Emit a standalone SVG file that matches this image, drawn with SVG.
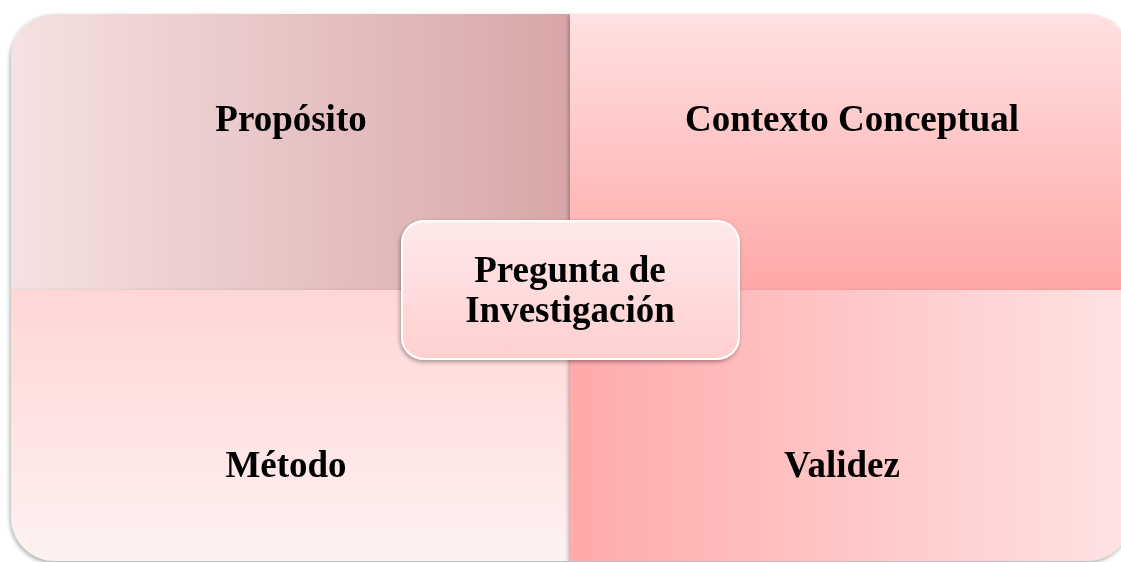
<svg xmlns="http://www.w3.org/2000/svg" width="1121" height="562" viewBox="0 0 1121 562">
  <style>
    .lbl { font-family: "Liberation Serif", "Times New Roman", serif; font-weight: bold; font-size: 37px; fill: #000; text-anchor: middle; }
  </style>
  <defs>
    <linearGradient id="gTL" x1="0" y1="0" x2="1" y2="0">
      <stop offset="0" stop-color="#f5e2e2"/>
      <stop offset="1" stop-color="#d9a6a7"/>
    </linearGradient>
    <linearGradient id="gTR" x1="0" y1="0" x2="0" y2="1">
      <stop offset="0" stop-color="#ffe1e1"/>
      <stop offset="1" stop-color="#ffa8a8"/>
    </linearGradient>
    <linearGradient id="gBL" x1="0" y1="0" x2="0" y2="1">
      <stop offset="0" stop-color="#ffd6d5"/>
      <stop offset="1" stop-color="#fdf2f1"/>
    </linearGradient>
    <linearGradient id="gBR" x1="0" y1="0" x2="1" y2="0">
      <stop offset="0" stop-color="#ffaaab"/>
      <stop offset="1" stop-color="#ffe3e3"/>
    </linearGradient>
    <linearGradient id="gC" x1="0" y1="0" x2="0" y2="1">
      <stop offset="0" stop-color="#ffe9e9"/>
      <stop offset="1" stop-color="#ffcfd0"/>
    </linearGradient>
    <filter id="sh" x="-10%" y="-10%" width="120%" height="125%">
      <feDropShadow dx="-1" dy="2" stdDeviation="2" flood-color="#000" flood-opacity="0.35"/>
    </filter>
  </defs>
  <rect width="1121" height="562" fill="#ffffff"/>
  <g id="proposito" filter="url(#sh)">
    <path d="M11 58 A44 44 0 0 1 55 14 L570 14 L570 290 L11 290 Z" fill="url(#gTL)"/>
    <text class="lbl" x="291" y="131">Propósito</text>
  </g>
  <g id="contexto" filter="url(#sh)">
    <path d="M570 14 L1087 14 A44 44 0 0 1 1131 58 L1131 290 L570 290 Z" fill="url(#gTR)"/>
    <text class="lbl" x="852" y="131">Contexto Conceptual</text>
  </g>
  <g id="metodo" filter="url(#sh)">
    <path d="M11 290 L570 290 L570 561 L55 561 A44 44 0 0 1 11 517 Z" fill="url(#gBL)"/>
    <text class="lbl" x="286" y="477">Método</text>
  </g>
  <g id="validez" filter="url(#sh)">
    <path d="M570 290 L1131 290 L1131 517 A44 44 0 0 1 1087 561 L570 561 Z" fill="url(#gBR)"/>
    <text class="lbl" x="842" y="477">Validez</text>
  </g>
  <g id="pregunta" filter="url(#sh)">
    <rect x="402" y="221" width="337" height="138" rx="22" ry="22" fill="url(#gC)" stroke="#ffffff" stroke-width="2"/>
    <text class="lbl" x="570" y="282">Pregunta de</text>
    <text class="lbl" x="570" y="322">Investigación</text>
  </g>
  <g id="connectors"></g>
</svg>
